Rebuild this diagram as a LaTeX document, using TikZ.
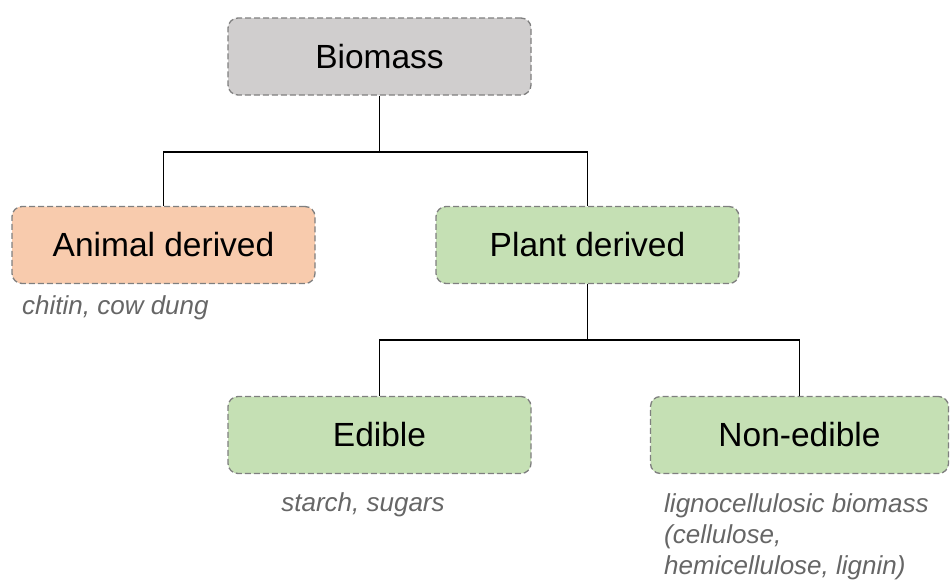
\documentclass[tikz,border=0pt]{standalone}
\usepackage{fontspec}
\setmainfont{Liberation Sans}
\definecolor{boxgray}{HTML}{D0CECE}
\definecolor{boxpeach}{HTML}{F8CBAD}
\definecolor{boxgreen}{HTML}{C5E0B4}
\definecolor{edgegray}{HTML}{7F7F7F}
\definecolor{notegray}{HTML}{666666}
\begin{document}
\begin{tikzpicture}[x=1pt, y=-1pt,
    catbox/.style={draw=edgegray, line width=1.3pt, dash pattern=on 6pt off 3pt,
      rounded corners=10pt, minimum width=303pt, minimum height=77pt,
      font=\fontsize{33.5}{40}\selectfont},
    note/.style={text=notegray, inner sep=0pt,
      font=\fontsize{26}{31}\selectfont\itshape},
    link/.style={line width=1.3pt}]
  \useasboundingbox (0,0) rectangle (950,579);

  % boxes
  \node[catbox, fill=boxgray] (bio) at (379.5, 56.5) {Biomass};
  \node[catbox, fill=boxpeach] (animal) at (163.5, 245) {Animal derived};
  \node[catbox, fill=boxgreen] (plant) at (587.5, 245) {Plant derived};
  \node[catbox, fill=boxgreen] (edible) at (379.5, 435) {Edible};
  \node[catbox, fill=boxgreen, minimum width=298pt] (nonedible) at (799.5, 435) {Non-edible};

  % notes
  \node[note, anchor=base west] (animalnote) at (22, 314) {chitin, cow dung};
  \node[note, anchor=base] (ediblenote) at (363, 511) {starch, sugars};
  \node[note, anchor=north west, align=left] (nonediblenote) at (664, 493)
    {lignocellulosic biomass\\(cellulose,\\hemicellulose, lignin)};

  % links
  \coordinate (j1) at (379.5, 152);
  \coordinate (j2) at (587.5, 340);
  \draw[link] (bio.south) -- (j1);
  \draw[link] (animal.north) |- (j1) -| (plant.north);
  \draw[link] (plant.south) -- (j2);
  \draw[link] (edible.north) |- (j2) -| (nonedible.north);
\end{tikzpicture}
\end{document}
